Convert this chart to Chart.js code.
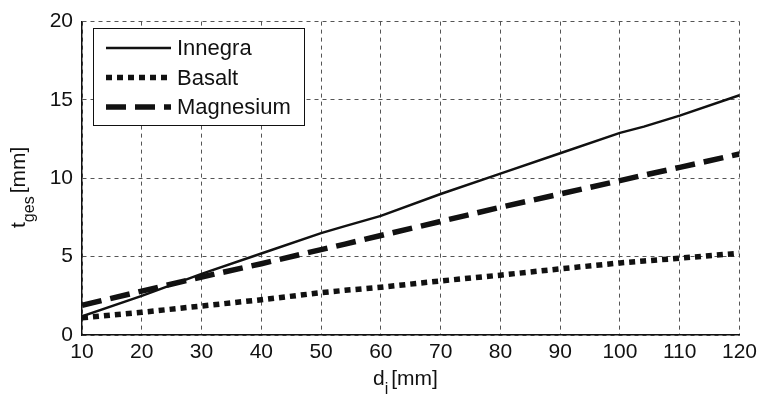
<!DOCTYPE html>
<html>
<head>
<meta charset="utf-8">
<script src="https://cdn.jsdelivr.net/npm/chart.js@4"></script>
<style>
  body { margin: 0; background: #fff; }
  #wrap { width: 762px; height: 399px; }
</style>
</head>
<body>
<div id="wrap"><canvas id="chart"></canvas></div>
<script>
// d_i [mm]
const diameters = [10, 20, 30, 40, 50, 54, 60, 70, 80, 90, 100, 104, 110, 120];
// t_ges [mm] per material
const innegra   = [1.2, 2.5, 3.9, 5.2, 6.5, 6.95, 7.6, 9.0, 10.3, 11.6, 12.9, 13.3, 14.0, 15.3];
const basalt    = [1.1, 1.45, 1.85, 2.25, 2.7, 2.85, 3.05, 3.45, 3.82, 4.22, 4.6, 4.72, 4.9, 5.22];
const magnesium = [1.9, 2.8, 3.7, 4.55, 5.45, 5.8, 6.35, 7.25, 8.15, 9.0, 9.85, 10.2, 10.7, 11.55];
const seriesNames = ['Innegra', 'Basalt', 'Magnesium'];

const FONT = '"Liberation Sans", Arial, Helvetica, sans-serif';
const INK = '#111';

function points(ys) {
    return diameters.map((d, i) => ({ x: d, y: ys[i] }));
}

const styles = [
    { borderWidth: 2.5, borderDash: [] },
    { borderWidth: 5.5, borderDash: [6, 5] },
    { borderWidth: 5.5, borderDash: [20, 9] },
];

// legend box and axis titles (with subscripts)
const extras = {
    id: 'extras',
    afterDraw(chart) {
        const ctx = chart.ctx;
        ctx.save();
        // legend
        const bx = 93, by = 28, bw = 211, bh = 97;
        ctx.fillStyle = '#fff';
        ctx.fillRect(bx, by, bw, bh);
        ctx.strokeStyle = INK;
        ctx.lineWidth = 1;
        ctx.strokeRect(bx + 0.5, by + 0.5, bw, bh);
        ctx.font = '22px ' + FONT;
        ctx.textBaseline = 'middle';
        seriesNames.forEach((name, i) => {
            const y = by + 20 + i * 29.5;
            ctx.beginPath();
            ctx.lineWidth = styles[i].borderWidth;
            ctx.setLineDash(styles[i].borderDash);
            ctx.strokeStyle = INK;
            ctx.moveTo(106, y);
            ctx.lineTo(171, y);
            ctx.stroke();
            ctx.setLineDash([]);
            ctx.fillStyle = INK;
            ctx.fillText(name, 177, y + 1);
        });

        // x title: d_i [mm]
        ctx.fillStyle = INK;
        ctx.textBaseline = 'alphabetic';
        ctx.font = '21px ' + FONT;
        let x = 373;
        ctx.fillText('d', x, 385);
        x += ctx.measureText('d').width;
        ctx.font = '16px ' + FONT;
        ctx.fillText('i', x, 394);
        x += ctx.measureText('i').width + 3;
        ctx.font = '21px ' + FONT;
        ctx.fillText('[mm]', x, 385);

        // y title: t_ges [mm], rotated
        ctx.translate(25, 228);
        ctx.rotate(-Math.PI / 2);
        x = 0;
        ctx.fillText('t', x, 0);
        x += ctx.measureText('t').width;
        ctx.font = '16px ' + FONT;
        ctx.fillText('ges', x, 9);
        x += ctx.measureText('ges').width + 3;
        ctx.font = '21px ' + FONT;
        ctx.fillText('[mm]', x, 0);
        ctx.restore();
    }
};

const gridStyle = {
    color: '#555',
    lineWidth: 1,
    drawTicks: false,
};

new Chart(document.getElementById('chart'), {
    type: 'line',
    data: {
        datasets: [innegra, basalt, magnesium].map((ys, i) => ({
            label: seriesNames[i],
            data: points(ys),
            borderColor: INK,
            borderWidth: styles[i].borderWidth,
            borderDash: styles[i].borderDash,
            borderCapStyle: 'butt',
            pointRadius: 0,
            tension: 0,
            fill: false,
        })),
    },
    options: {
        responsive: true,
        maintainAspectRatio: false,
        animation: false,
        layout: { padding: { top: 16, right: 21, left: 0, bottom: 0 } },
        plugins: {
            legend: { display: false },
            tooltip: { enabled: false },
        },
        scales: {
            x: {
                type: 'linear',
                min: 10,
                max: 120,
                ticks: {
                    stepSize: 10,
                    color: INK,
                    font: { family: FONT, size: 21 },
                    padding: 5,
                    maxRotation: 0,
                },
                grid: gridStyle,
                border: { display: true, color: INK, width: 1.5, dash: [4, 4] },
                afterFit(scale) { scale.height = 64; },
            },
            y: {
                min: 0,
                max: 20,
                ticks: {
                    stepSize: 5,
                    color: INK,
                    font: { family: FONT, size: 21 },
                    padding: 9,
                },
                grid: gridStyle,
                border: { display: true, color: INK, width: 1.5, dash: [4, 4] },
                afterFit(scale) { scale.width = 82; },
            },
        },
    },
    plugins: [extras],
});
</script>
</body>
</html>
